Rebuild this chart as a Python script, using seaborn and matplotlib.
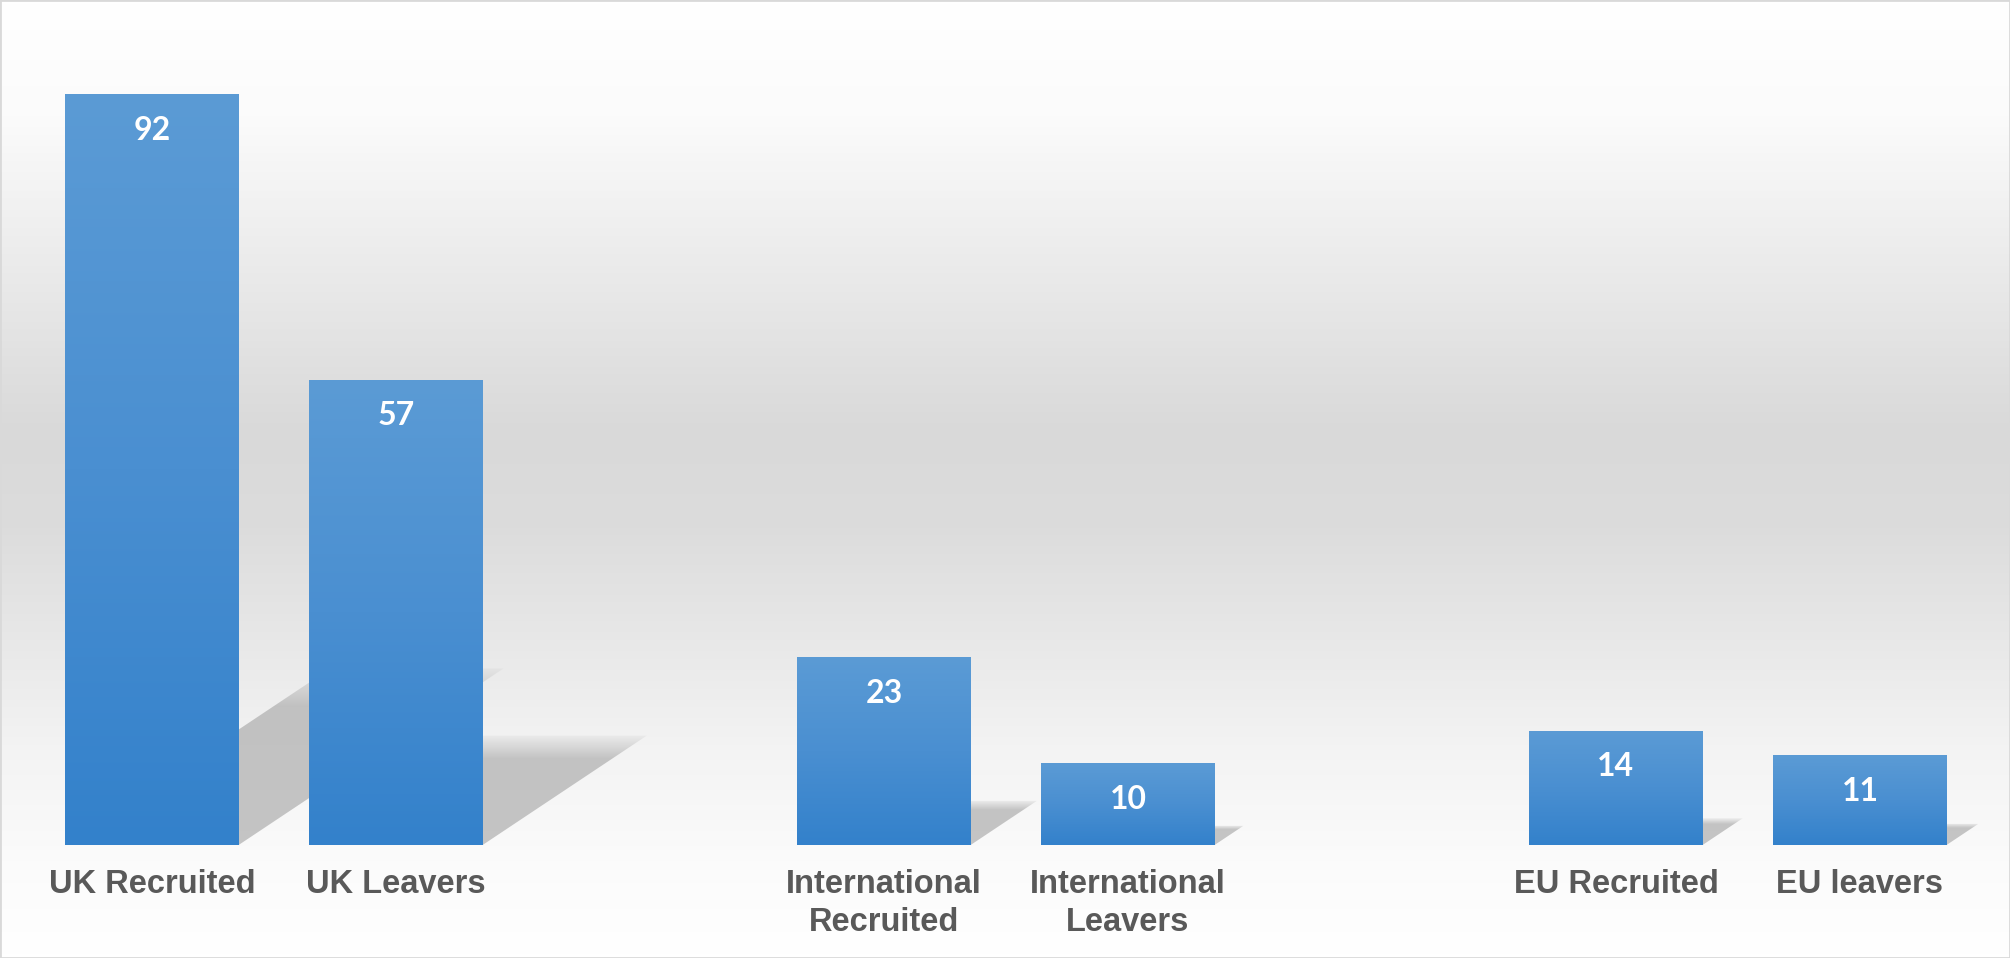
import numpy as np
import pandas as pd
import seaborn as sns
import matplotlib.pyplot as plt
from matplotlib.patches import Polygon, Rectangle
from matplotlib.colors import LinearSegmentedColormap

# --- Data ---
categories = ["UK Recruited", "UK Leavers",
              "International\nRecruited", "International\nLeavers",
              "EU Recruited", "EU leavers"]
values = [92, 57, 23, 10, 14, 11]
# empty slots separate the three groups
order = ["UK Recruited", "UK Leavers", "",
         "International\nRecruited", "International\nLeavers", " ",
         "EU Recruited", "EU leavers"]

df = pd.DataFrame({"category": categories, "value": values})

sns.set_style("white")
plt.rcParams["font.family"] = ["Liberation Sans", "DejaVu Sans"]

fig = plt.figure(figsize=(20.1, 9.58), dpi=100)

# background: white -> grey -> white vertical gradient
bg = fig.add_axes([0, 0, 1, 1], zorder=-1)
bg_cmap = LinearSegmentedColormap.from_list(
    "bg",
    [(0.0, "#ffffff"), (0.12, "#fbfbfb"), (0.45, "#d9d9d9"),
     (0.55, "#dcdcdc"), (0.78, "#f3f3f3"), (0.9, "#fbfbfb"),
     (1.0, "#ffffff")],
)
bg.imshow(np.linspace(0, 1, 256).reshape(-1, 1), cmap=bg_cmap,
          aspect="auto", extent=[0, 1, 0, 1])
bg.set_axis_off()

ax = fig.add_axes([0, 113 / 958, 1, 1 - 113 / 958])
ax.set_facecolor("none")

sns.barplot(data=df, x="category", y="value", order=order,
            color="#3a85cc", width=0.71, saturation=1, ax=ax)

bar_cmap = LinearSegmentedColormap.from_list(
    "bar", [(0.0, "#3381cb"), (0.5, "#4a8fd1"), (1.0, "#5b9bd5")])
grad = np.linspace(0, 1, 256).reshape(-1, 1)

for p in ax.patches:
    x0, w, h = p.get_x(), p.get_width(), p.get_height()
    p.set_edgecolor("none")
    # gradient fill clipped to the bar
    im = ax.imshow(grad, cmap=bar_cmap, origin="lower", aspect="auto",
                   extent=[x0, x0 + w, 0, h], zorder=3)
    im.set_clip_path(p)
    p.set_zorder(2.9)

    # skewed drop shadow behind the bar
    sh = 0.235 * h
    dx = 0.0118 * h
    poly = Polygon([(x0, 0), (x0 + w, 0), (x0 + w + dx, sh), (x0 + dx, sh)],
                   closed=True, facecolor="none", edgecolor="none")
    ax.add_patch(poly)
    rgba = np.zeros((256, 1, 4))
    rgba[..., :3] = 0.68
    rgba[:, 0, 3] = np.concatenate([np.full(200, 0.7),
                                    np.linspace(0.7, 0.1, 56)])
    sim = ax.imshow(rgba, origin="lower", aspect="auto",
                    extent=[x0, x0 + w + dx, 0, sh], zorder=1,
                    interpolation="bilinear")
    sim.set_clip_path(poly)

    ax.annotate(f"{h:.0f}", (x0 + w / 2, h), xytext=(0, -26),
                textcoords="offset points", ha="center", va="center",
                color="white", fontsize=23, fontweight="bold",
                family=["Lato", "DejaVu Sans"], zorder=4)

ax.set_xlim(-0.623, 7.615)
ax.set_ylim(0, 103.5)
ax.set_xlabel("")
ax.set_ylabel("")
ax.set_yticks([])
ax.tick_params(axis="x", length=0, pad=17)
for lbl in ax.get_xticklabels():
    lbl.set_fontsize(23.5)
    lbl.set_fontweight("bold")
    lbl.set_color("#595959")
    lbl.set_linespacing(1.32)
sns.despine(ax=ax, left=True, bottom=True)

# thin frame around the chart area
fig.patches.append(Rectangle((0, 0), 1, 1, transform=fig.transFigure,
                             fill=False, edgecolor="#d9d9d9", linewidth=2))

fig.savefig("out.png", dpi=100)
